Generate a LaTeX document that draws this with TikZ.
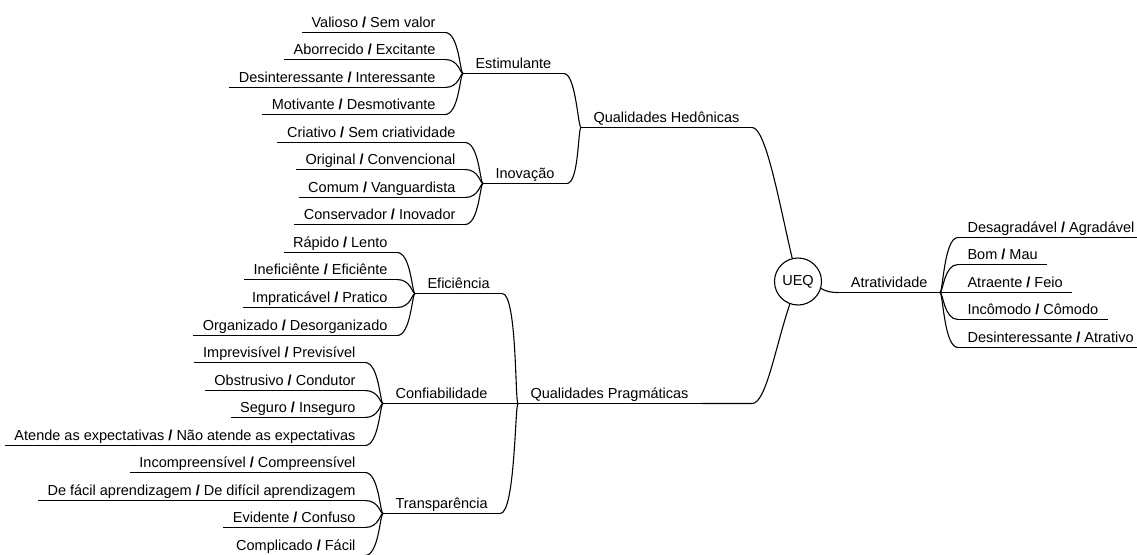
\documentclass[tikz,border=0pt]{standalone}
\usepackage{fontspec}
\setmainfont{Liberation Sans}
\usetikzlibrary{positioning}
\newcommand{\barra}{\textbf{/}}

\begin{document}
\begin{tikzpicture}[x=1pt, y=-1pt, line width=1.1pt,
    font=\fontsize{14.5pt}{17pt}\selectfont,
    under/.style={text height=10.5pt, text depth=0pt, inner ysep=4.5pt,
      append after command={(\tikzlastnode.south west) edge (\tikzlastnode.south east)}},
    leaf/.style={under, inner xsep=9pt},
    branch/.style={under, inner xsep=12pt}]
    \useasboundingbox (0,0) rectangle (1137,554);
    % centre and main branches
    \node[draw, circle, minimum size=47pt, inner sep=0pt] (ueq) at (798,281.5) {UEQ};
    \node[branch, anchor=south west] (qh) at (581,127.5) {Qualidades Hedônicas};
    \node[branch, anchor=south west] (qp) at (518,403.5) {Qualidades Pragmáticas};
    \node[branch, anchor=south east] (atr) at (940,292.5) {Atratividade};
    \draw (qh.south east) .. controls +(14,0) and +(-13,-55) .. (ueq.104);
    \draw (qp.south east) -- (qp.south east -| qh.south east) .. controls +(14,0) and +(-15,45) .. (ueq.250);
    \draw (ueq.-17) .. controls +(6,3) and +(-8,0) .. (atr.south west);

    % hedonic qualities
    \node[branch, anchor=south west] (est) at (463,73.5) {Estimulante};
    \node[branch, anchor=south west] (ino) at (483,183.5) {Inovação};
    \draw (est.south east) .. controls +(12,0) and +(-3,0) .. (qh.south west);
    \draw (ino.south east) .. controls +(12,0) and +(-3,0) .. (qh.south west);
    \node[leaf, anchor=south east] (e1) at (445,32.5) {Valioso \barra{} Sem valor};
    \node[leaf, anchor=south east] (e2) at (445,59.5) {Aborrecido \barra{} Excitante};
    \node[leaf, anchor=south east] (e3) at (445,87.5) {Desinteressante \barra{} Interessante};
    \node[leaf, anchor=south east] (e4) at (445,114.5) {Motivante \barra{} Desmotivante};
    \node[leaf, anchor=south east] (i1) at (465,142.5) {Criativo \barra{} Sem criatividade};
    \node[leaf, anchor=south east] (i2) at (465,169.5) {Original \barra{} Convencional};
    \node[leaf, anchor=south east] (i3) at (465,197.5) {Comum \barra{} Vanguardista};
    \node[leaf, anchor=south east] (i4) at (465,224.5) {Conservador \barra{} Inovador};
    \foreach \n in {e1,e2,e3,e4}
      \draw (\n.south east) .. controls +(14,0) and +(-3,0) .. (est.south west);
    \foreach \n in {i1,i2,i3,i4}
      \draw (\n.south east) .. controls +(14,0) and +(-3,0) .. (ino.south west);

    % pragmatic qualities
    \node[branch, anchor=south west] (efi) at (415,293.5) {Eficiência};
    \node[branch, anchor=south west] (con) at (383,403.5) {Confiabilidade};
    \node[branch, anchor=south west] (tra) at (383,513.5) {Transparência};
    \draw (efi.south east) .. controls +(15,0) and +(-3,0) .. (qp.south west);
    \draw (con.south east) -- (qp.south west);
    \draw (tra.south east) .. controls +(15,0) and +(-3,0) .. (qp.south west);
    \node[leaf, anchor=south east] (f1) at (397,252.5) {Rápido \barra{} Lento};
    \node[leaf, anchor=south east] (f2) at (397,279.5) {Ineficiênte \barra{} Eficiênte};
    \node[leaf, anchor=south east] (f3) at (397,307.5) {Impraticável \barra{} Pratico};
    \node[leaf, anchor=south east] (f4) at (397,335.5) {Organizado \barra{} Desorganizado};
    \node[leaf, anchor=south east] (c1) at (365,362.5) {Imprevisível \barra{} Previsível};
    \node[leaf, anchor=south east] (c2) at (365,390.5) {Obstrusivo \barra{} Condutor};
    \node[leaf, anchor=south east] (c3) at (365,417.5) {Seguro \barra{} Inseguro};
    \node[leaf, anchor=south east] (c4) at (365,445.5) {Atende as expectativas \barra{} Não atende as expectativas};
    \node[leaf, anchor=south east] (t1) at (365,472.5) {Incompreensível \barra{} Compreensível};
    \node[leaf, anchor=south east] (t2) at (365,500.5) {De fácil aprendizagem \barra{} De difícil aprendizagem};
    \node[leaf, anchor=south east] (t3) at (365,527.5) {Evidente \barra{} Confuso};
    \node[leaf, anchor=south east] (t4) at (365,555.5) {Complicado \barra{} Fácil};
    \foreach \n in {f1,f2,f3,f4}
      \draw (\n.south east) .. controls +(14,0) and +(-3,0) .. (efi.south west);
    \foreach \n in {c1,c2,c3,c4}
      \draw (\n.south east) .. controls +(14,0) and +(-3,0) .. (con.south west);
    \foreach \n in {t1,t2,t3,t4}
      \draw (\n.south east) .. controls +(14,0) and +(-3,0) .. (tra.south west);

    % attractiveness
    \node[leaf, anchor=south west] (a1) at (958,237.5) {Desagradável \barra{} Agradável};
    \node[leaf, anchor=south west] (a2) at (958,264.5) {Bom \barra{} Mau};
    \node[leaf, anchor=south west] (a3) at (958,292.5) {Atraente \barra{} Feio};
    \node[leaf, anchor=south west] (a4) at (958,319.5) {Incômodo \barra{} Cômodo};
    \node[leaf, anchor=south west] (a5) at (958,347.5) {Desinteressante \barra{} Atrativo};
    \foreach \n in {a1,a2,a3,a4,a5}
      \draw (atr.south east) .. controls +(3,0) and +(-14,0) .. (\n.south west);
\end{tikzpicture}
\end{document}
